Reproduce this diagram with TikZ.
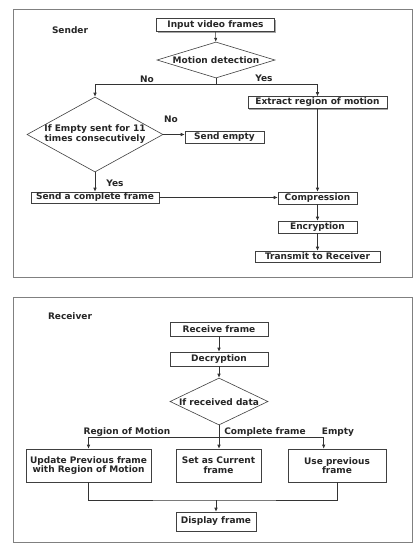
\documentclass[tikz,border=0pt]{standalone}
\usepackage{fontspec}
\setmainfont{DejaVu Sans}
\usetikzlibrary{shapes.geometric,arrows.meta,shadows}
\begin{document}
\begin{tikzpicture}[x=1pt,y=-1pt,
  txt/.style={font=\fontsize{9}{9.6}\selectfont\bfseries, align=center, inner sep=0pt, text=black!85},
  box/.style={txt, draw=black!75, line width=0.6pt, fill=white,
    drop shadow={shadow xshift=1.2pt, shadow yshift=-1.2pt, fill=black!35, opacity=1}},
  dia/.style={diamond, draw=black!75, line width=0.6pt, fill=white, inner sep=0pt},
  lbl/.style={txt},
  frame/.style={draw=black!50, line width=0.9pt},
  arr/.style={draw=black!80, line width=0.6pt, -{Latex[length=4pt,width=3.5pt]}},
  ln/.style={draw=black!80, line width=0.6pt}]
\useasboundingbox (0,0) rectangle (419,550);
\fill[white] (0,0) rectangle (419,550);
% frames
\draw[frame] (13,9) rectangle (412,277);
\draw[frame] (13,297) rectangle (412,542);
\node[lbl] (sender) at (70,30) {Sender};
\node[lbl] (receiver) at (70,316) {Receiver};
% sender nodes
\node[box, minimum width=118pt, minimum height=13pt] (in) at (215.5,25) {Input video frames};
\node[dia, minimum width=118pt, minimum height=36pt] (md) at (216,60) {};
\node[txt] (mdt) at (216,60) {Motion detection};
\node[box, minimum width=139pt, minimum height=12pt] (er) at (317.5,102.5) {Extract region of motion};
\node[dia, minimum width=136pt, minimum height=75pt] (d2) at (95,134.5) {};
\node[txt] (d2t) at (95,134) {If Empty sent for 11\\times consecutively};
\node[box, minimum width=79pt, minimum height=12pt] (se) at (224.5,137) {Send empty};
\node[box, minimum width=128pt, minimum height=11pt] (scf) at (95,197.5) {Send a complete frame};
\node[box, minimum width=79pt, minimum height=12pt] (comp) at (317.5,198) {Compression};
\node[box, minimum width=79pt, minimum height=12pt] (enc) at (317.5,227) {Encryption};
\node[box, minimum width=125pt, minimum height=11pt] (tx) at (317.5,256.5) {Transmit to Receiver};
% sender connectors
\draw[arr] (in) -- (md);
\coordinate (j1) at (216,84);
\draw[ln] (md.south) -- (j1);
\draw[arr] (j1) -| (d2.north);
\draw[arr] (j1) -| (er.north);
\node[lbl] (no1) at (147,79) {No};
\node[lbl] (yes1) at (264,78) {Yes};
\draw[arr] (er.south) -- (comp.north);
\draw[arr] (d2.east) -- (se.west |- d2.east);
\node[lbl] (no2) at (171,119) {No};
\draw[arr] (d2.south) -- (scf.north);
\node[lbl] (yes2) at (115,183) {Yes};
\draw[arr] (scf.east) -- (comp.west |- scf.east);
\draw[arr] (comp) -- (enc);
\draw[arr] (enc) -- (tx);
% receiver nodes
\node[box, minimum width=98pt, minimum height=14pt] (rf) at (219,329) {Receive frame};
\node[box, minimum width=98pt, minimum height=14pt] (dec) at (219,359) {Decryption};
\node[dia, minimum width=98pt, minimum height=47pt] (d3) at (219,401.5) {};
\node[txt] (d3t) at (219,402) {If received data};
\node[box, minimum width=125pt, minimum height=33pt] (up) at (88.5,465.5) {Update Previous frame\\with Region of Motion};
\node[box, minimum width=85pt, minimum height=33pt] (sc) at (218.5,465.5) {Set as Current\\frame};
\node[box, minimum width=98pt, minimum height=33pt] (up2) at (337,465.5) {Use previous\\frame};
\node[box, minimum width=80pt, minimum height=19pt] (df) at (216,521.5) {Display frame};
% receiver connectors
\draw[arr] (rf) -- (dec);
\draw[arr] (dec) -- (d3.north);
\coordinate (j2) at (219,437);
\draw[ln] (d3.south) -- (j2);
\draw[arr] (j2) -| (up.north);
\draw[arr] (j2) -- (j2 |- sc.north);
\draw[arr] (j2) -| ([xshift=36pt]up2.north west);
\node[lbl] (l1) at (127,432) {Region of Motion};
\node[lbl] (l2) at (265,432) {Complete frame};
\node[lbl] (l3) at (338,432) {Empty};
\coordinate (j3) at (216,500);
\draw[ln] (up.south) |- (j3) -| (up2.south);
\draw[arr] (j3) -- (df.north);
\end{tikzpicture}
\end{document}
